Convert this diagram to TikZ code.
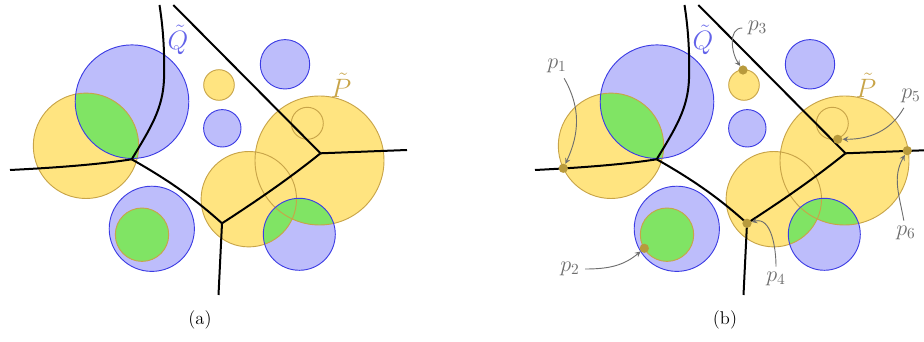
\documentclass[tikz,border=0pt]{standalone}
\usepackage{amsmath, amssymb}
\usepackage{xcolor}
\usepackage{tikz}
\usetikzlibrary{
  arrows.meta,
  calc,
  positioning
}
\definecolor{diskyellow}{RGB}{255,228,128}
\definecolor{diskyellowline}{RGB}{200,164,72}
\definecolor{diskblue}{RGB}{189,189,251}
\definecolor{diskblueline}{RGB}{60,60,228}
\definecolor{diskgreen}{RGB}{128,228,100}
\definecolor{dotyellow}{RGB}{184,154,60}
\definecolor{notegray}{RGB}{110,110,110}
\tikzset{
  >=stealth,
  line cap=round,
  line join=round,
  ydisk/.style={fill=diskyellow},
  bdisk/.style={fill=diskblue},
  gdisk/.style={fill=diskgreen},
  yrim/.style={draw=diskyellowline, line width=0.6pt},
  brim/.style={draw=diskblueline, line width=0.6pt},
  voronoi/.style={draw=black, line width=1.3pt},
  point/.style={circle, fill=dotyellow, inner sep=0pt, minimum size=6pt},
  arrow/.style={->, draw=notegray, line width=0.6pt},
  plabel/.style={text=notegray, font=\Large},
  setlabel/.style={font=\LARGE},
  caplabel/.style={font=\large}
}

\begin{document}
\begin{tikzpicture}[x=0.65pt, y=0.65pt]
  \useasboundingbox (0,0) rectangle (924,341);

  \foreach \sx/\cap in {0/a, 525/b} {
    \begin{scope}[shift={(\sx,0)}]
      % disk centres
      \coordinate (Y1) at (86,195.2);
      \coordinate (Y2) at (219,256);
      \coordinate (Y3) at (319.5,180.5);
      \coordinate (Y4) at (307.3,217.7);
      \coordinate (Y5) at (248.8,141.8);
      \coordinate (Y6) at (142,106.3);
      \coordinate (B1) at (132,239.3);
      \coordinate (B2) at (222.3,212.7);
      \coordinate (B3) at (285,276.7);
      \coordinate (B4) at (151.8,112.2);
      \coordinate (B5) at (299.3,106.7);

      \fill[ydisk] (Y1) circle (52.7) (Y2) circle (15.3) (Y3) circle (64.5)
        (Y5) circle (47.7);
      \fill[bdisk] (B1) circle (56.8) (B2) circle (18.7) (B3) circle (24.7)
        (B4) circle (42.6) (B5) circle (36);

      % overlaps
      \begin{scope}
        \clip (B1) circle (56.8);
        \fill[gdisk] (Y1) circle (52.7);
      \end{scope}
      \begin{scope}
        \clip (B5) circle (36);
        \fill[gdisk] (Y3) circle (64.5) (Y5) circle (47.7);
      \end{scope}
      \fill[gdisk] (Y6) circle (26.7);

      \draw[yrim] (Y1) circle (52.7) (Y2) circle (15.3) (Y3) circle (64.5)
        (Y4) circle (16) (Y5) circle (47.7) (Y6) circle (26.7);
      \draw[brim] (B1) circle (56.8) (B2) circle (18.7) (B3) circle (24.7)
        (B4) circle (42.6) (B5) circle (36);

      % voronoi edges
      \coordinate (A) at (131.7,181.7);
      \coordinate (B) at (222,117.7);
      \coordinate (C) at (320.5,187.7);
      \coordinate (west) at (10,171);
      \coordinate (north) at (159.5,336);
      \coordinate (south) at (218.5,46);
      \coordinate (east) at (407,191);
      \coordinate (northwest) at (173.3,336);
      \draw[voronoi] (west) .. controls (50,173) and (95,176) .. (A);
      \draw[voronoi] (A) .. controls (150,212) and (163,232) .. (164,262)
        .. controls (165,295) and (162,320) .. (north);
      \draw[voronoi] (A) .. controls (170,160) and (195,142) .. (B);
      \draw[voronoi] (B) -- (south);
      \draw[voronoi] (B) .. controls (255,139) and (290,163) .. (C);
      \draw[voronoi] (C) -- (east);
      \draw[voronoi] (C) -- (northwest);

      \node[setlabel, text=diskblueline!80] (Qt\cap) at (178,301) {$\tilde{Q}$};
      \node[setlabel, text=diskyellowline] (Pt\cap) at (341,255.5) {$\tilde{P}$};
      \node[caplabel] (cap\cap) at (200,21) {(\cap)};
    \end{scope}
  }

  % sample points, panel (b)
  \begin{scope}[shift={(525,0)}]
    \node[point] (d1) at (38.3,172.7) {};
    \node[point] (d2) at (119.3,92.7) {};
    \node[point] (d3) at (218,271) {};
    \node[point] (d4) at (222,117.7) {};
    \node[point] (d5) at (312.7,201.7) {};
    \node[point] (d6) at (382.3,190.3) {};

    \node[plabel] (l1) at (32,275) {$p_1$};
    \node[plabel] (l2) at (45,72) {$p_2$};
    \node[plabel] (l3) at (232.5,313) {$p_3$};
    \node[plabel] (l4) at (251,62) {$p_4$};
    \node[plabel] (l5) at (386,245.5) {$p_5$};
    \node[plabel] (l6) at (381,108) {$p_6$};

    \draw[arrow] (l1) to[out=-60, in=65] (d1);
    \draw[arrow] (l2) to[out=0, in=-140] (d2);
    \draw[arrow] (l3) to[out=180, in=125] (d3);
    \draw[arrow] (l4) to[out=90, in=15] (d4);
    \draw[arrow] (l5) to[out=-120, in=0] (d5);
    \draw[arrow] (l6) to[out=100, in=-120] (d6);
  \end{scope}
\end{tikzpicture}
\end{document}
